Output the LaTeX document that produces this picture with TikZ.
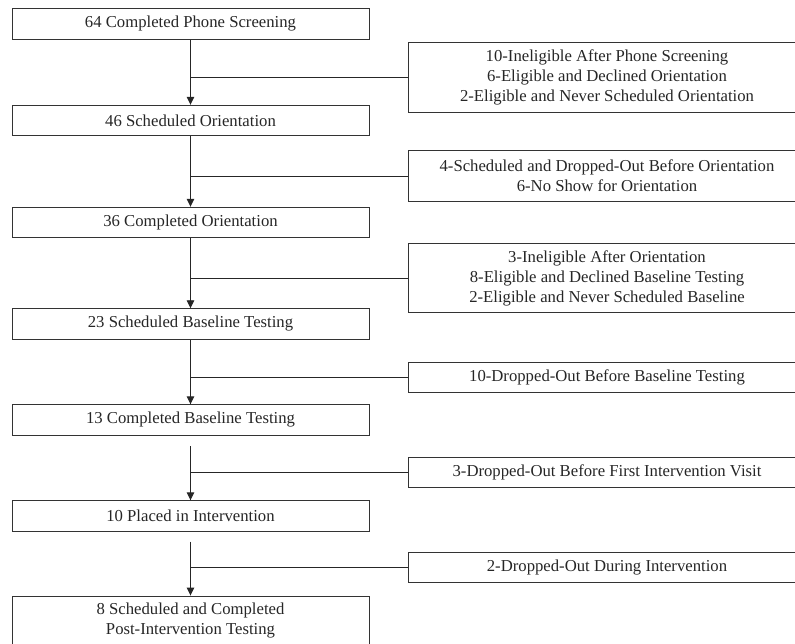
\documentclass[tikz,border=0pt]{standalone}
\usepackage{fontspec}
\setmainfont{Liberation Serif}
\usetikzlibrary{arrows.meta}
\begin{document}
\begin{tikzpicture}[x=1pt,y=-1pt,
  every node/.style={font=\fontsize{16.7}{20}\selectfont, text=black!85},
  mainbox/.style={draw=black!80, line width=0.9pt, minimum width=357pt, inner sep=0pt, align=center},
  sidebox/.style={draw=black!80, line width=0.9pt, minimum width=398pt, inner sep=0pt, align=center},
  flow/.style={draw=black!85, line width=0.9pt, -{Triangle[length=8pt,width=7.5pt]}},
  branch/.style={draw=black!85, line width=0.9pt}
]
\useasboundingbox (0,0) rectangle (795,644);
\begin{scope}
\clip (0,0) rectangle (795,644);
\node[mainbox, minimum height=30.5pt] (b1) at (190.5,24) {64 Completed Phone Screening};
\node[mainbox, minimum height=30.5pt] (b2) at (190.5,120.5) {46 Scheduled Orientation};
\node[mainbox, minimum height=30.5pt] (b3) at (190.5,222.5) {36 Completed Orientation};
\node[mainbox, minimum height=30.5pt] (b4) at (190.5,324) {23 Scheduled Baseline Testing};
\node[mainbox, minimum height=30.5pt] (b5) at (190.5,420) {13 Completed Baseline Testing};
\node[mainbox, minimum height=30.5pt] (b6) at (190.5,516) {10 Placed in Intervention};
\node[mainbox, minimum height=50pt] (b7) at (190.5,621) {8 Scheduled and Completed\\Post-Intervention Testing};

\node[sidebox, minimum height=70pt] (r1) at (607,77) {10-Ineligible After Phone Screening\\6-Eligible and Declined Orientation\\2-Eligible and Never Scheduled Orientation};
\node[sidebox, minimum height=50.5pt] (r2) at (607,176) {4-Scheduled and Dropped-Out Before Orientation\\6-No Show for Orientation};
\node[sidebox, minimum height=69.5pt] (r3) at (607,278) {3-Ineligible After Orientation\\8-Eligible and Declined Baseline Testing\\2-Eligible and Never Scheduled Baseline};
\node[sidebox, minimum height=30pt] (r4) at (607,377) {10-Dropped-Out Before Baseline Testing};
\node[sidebox, minimum height=30pt] (r5) at (607,472.7) {3-Dropped-Out Before First Intervention Visit};
\node[sidebox, minimum height=30pt] (r6) at (607,567.7) {2-Dropped-Out During Intervention};
\end{scope}

\coordinate (s5) at ([yshift=-10.5pt]b5.south);
\coordinate (s6) at ([yshift=-10pt]b6.south);

\draw[flow] (b1.south) -- (b2.north);
\draw[flow] (b2.south) -- (b3.north);
\draw[flow] (b3.south) -- (b4.north);
\draw[flow] (b4.south) -- (b5.north);
\draw[flow] (s5) -- (b6.north);
\draw[flow] (s6) -- (b7.north);

\draw[branch] (b1.south |- r1.west) -- (r1.west);
\draw[branch] (b2.south |- r2.west) -- (r2.west);
\draw[branch] (b3.south |- r3.west) -- (r3.west);
\draw[branch] (b4.south |- r4.west) -- (r4.west);
\draw[branch] (b5.south |- r5.west) -- (r5.west);
\draw[branch] (b6.south |- r6.west) -- (r6.west);
\end{tikzpicture}
\end{document}
